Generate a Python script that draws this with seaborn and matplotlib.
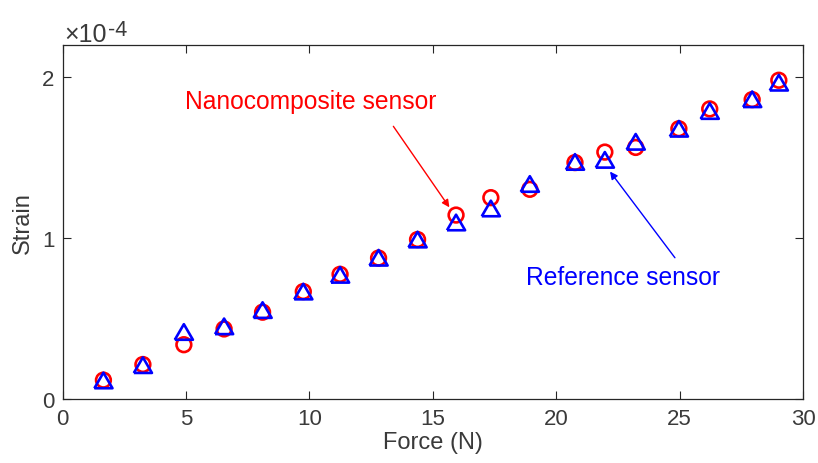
import matplotlib
matplotlib.use("Agg")
import matplotlib.pyplot as plt
import seaborn as sns
import numpy as np
import pandas as pd

# ---- data ----
force = [1.65, 3.25, 4.91, 6.54, 8.10, 9.75, 11.24, 12.80, 14.38, 15.94,
         17.35, 18.93, 20.76, 21.97, 23.22, 24.97, 26.22, 27.94, 29.02]
nano_strain = [0.119, 0.216, 0.339, 0.437, 0.541, 0.669, 0.776, 0.877, 0.992, 1.144,
               1.252, 1.304, 1.470, 1.535, 1.564, 1.680, 1.803, 1.861, 1.981]  # x1e-4
ref_strain = [0.117, 0.212, 0.418, 0.453, 0.554, 0.669, 0.773, 0.879, 0.992, 1.098,
              1.185, 1.337, 1.474, 1.487, 1.599, 1.680, 1.790, 1.863, 1.966]  # x1e-4
scale = 1e-4
xticks = [0, 5, 10, 15, 20, 25, 30]
yticks = [0, 1, 2]  # x1e-4

df = pd.DataFrame({
    "Force": force,
    "Nano": np.array(nano_strain) * scale,
    "Ref": np.array(ref_strain) * scale,
})

sns.set_theme(style="white")
plt.rcParams["font.family"] = ["Liberation Sans", "DejaVu Sans"]
txt = "#3a3a3a"

fig = plt.figure(figsize=(8.18, 4.64), dpi=100)
ax = fig.add_axes([62.7 / 818, 1 - 400.3 / 464, (803 - 62.7) / 818, (400.3 - 46) / 464])

tri = [(-1, -0.86), (1, -0.86), (0, 0.86), (-1, -0.86)]

sns.scatterplot(data=df, x="Force", y="Nano", ax=ax, marker="o", s=112,
                facecolors="none", edgecolors="red", linewidths=1.9, zorder=3)
sns.scatterplot(data=df, x="Force", y="Ref", ax=ax, marker=tri, s=170,
                facecolors="none", edgecolors="blue", linewidths=1.9, zorder=4)

ax.set_xlim(0, 30)
ax.set_ylim(0, 2.2 * scale)
ax.set_xticks(xticks)
ax.set_yticks([v * scale for v in yticks])
ax.set_xticklabels([str(v) for v in xticks])
ax.set_yticklabels([str(v) for v in yticks])

ax.tick_params(direction="in", length=6, width=0.8, colors="#262626",
               labelcolor=txt, labelsize=16, top=True, right=True,
               bottom=True, left=True, pad=6)
for sp in ax.spines.values():
    sp.set_visible(True)
    sp.set_color("#262626")
    sp.set_linewidth(0.9)

ax.set_xlabel("Force (N)", fontsize=17, color=txt, labelpad=2)
ax.set_ylabel("Strain", fontsize=17, color=txt, labelpad=6)

# offset text "x10^-4"
fig.text(64 / 818, 1 - 42 / 464, "\u00d710", fontsize=18, color=txt, ha="left", va="baseline")
fig.text(108 / 818, 1 - 36 / 464, "-4", fontsize=15.5, color=txt, ha="left", va="baseline")

ax.text(10.06, 1.809 * scale, "Nanocomposite sensor", ha="center", va="baseline",
        fontsize=17.7, color="red")
ax.text(22.72, 0.719 * scale, "Reference sensor", ha="center", va="baseline",
        fontsize=17.7, color="blue")

ax.annotate("", xy=(15.67, 1.192 * scale), xytext=(13.40, 1.695 * scale),
            arrowprops=dict(arrowstyle="-|>", color="red", lw=1.0, mutation_scale=11,
                            shrinkA=0, shrinkB=0))
ax.annotate("", xy=(22.18, 1.414 * scale), xytext=(24.81, 0.879 * scale),
            arrowprops=dict(arrowstyle="-|>", color="blue", lw=1.0, mutation_scale=11,
                            shrinkA=0, shrinkB=0))

fig.savefig("out.png", dpi=100)
